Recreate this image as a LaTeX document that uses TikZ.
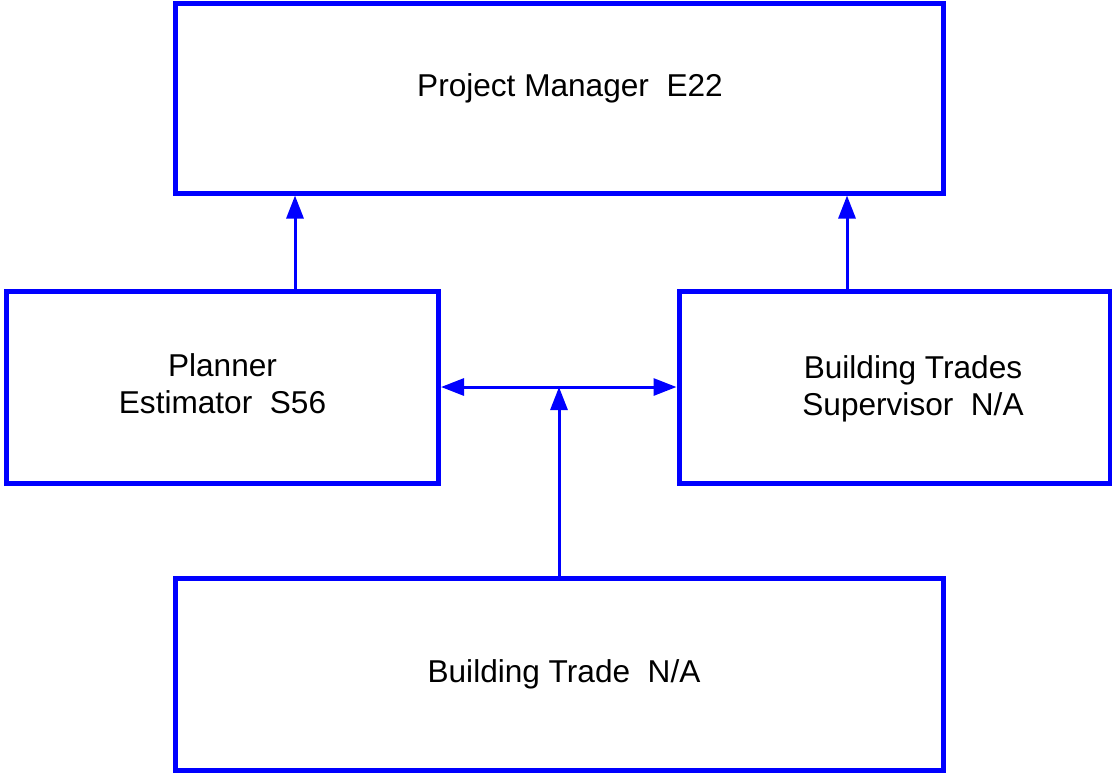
\documentclass[tikz,border=0pt]{standalone}
\usepackage{fontspec}
\setmainfont{Liberation Sans}
\usetikzlibrary{arrows.meta}
\begin{document}
\begin{tikzpicture}[x=.5pt, y=-.5pt, font=\fontsize{15.8}{18.5}\selectfont,
	>={Triangle[length=11.5pt, width=8.5pt]},
	box/.style={draw=blue, line width=2.5pt, inner sep=0pt},
	link/.style={draw=blue, line width=1.5pt}]
	\useasboundingbox (0,0) rectangle (1112,773);
	\node[box, minimum width=384pt, minimum height=95pt,
	      label={[xshift=5.5pt, yshift=5pt]center:Project Manager\ \ E22}] (manager) at (559,98) {};
	\node[box, minimum width=216pt, minimum height=96pt,
	      label={[align=center, yshift=1.5pt]center:Planner\\Estimator\ \ S56}] (planner) at (222.5,387) {};
	\node[box, minimum width=215.5pt, minimum height=96pt,
	      label={[align=center, xshift=9.25pt, yshift=-1pt]center:Building Trades\\Supervisor\ \ N/A}] (supervisor) at (894.5,387) {};
	\node[box, minimum width=384pt, minimum height=96pt,
	      label={[xshift=2.5pt]center:Building Trade\ \ N/A}] (trade) at (559,674) {};
	\coordinate (junction) at (trade.north |- planner.east);
	\draw[link, ->] ([xshift=36.25pt]planner.north) -- ([xshift=36.25pt]planner.north |- manager.south);
	\draw[link, ->] ([xshift=-23.75pt]supervisor.north) -- ([xshift=-23.75pt]supervisor.north |- manager.south);
	\draw[link, <->] (planner.east) -- (supervisor.west);
	\draw[link, ->] (trade.north) -- (junction);
\end{tikzpicture}
\end{document}
